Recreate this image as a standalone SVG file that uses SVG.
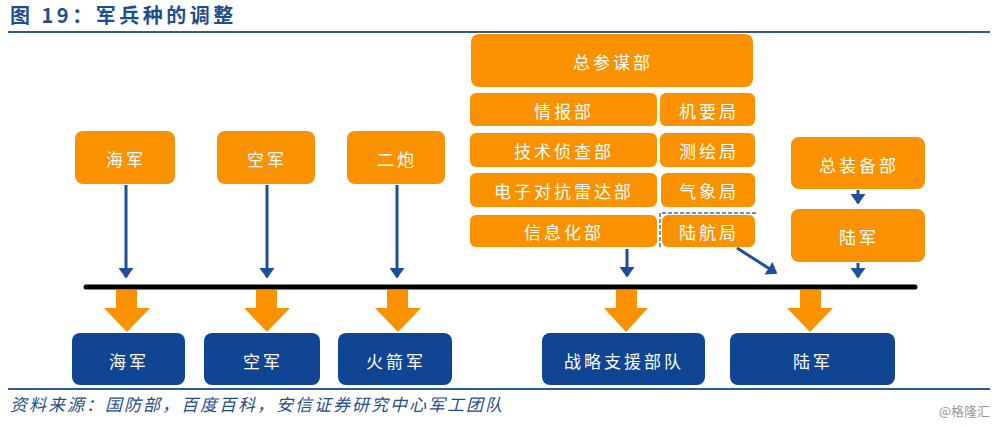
<svg xmlns="http://www.w3.org/2000/svg" width="1000" height="427" viewBox="0 0 1000 427">
<defs>
<style>
.on{fill:#fa9200}
.bn{fill:#0f4592}
.t{font-family:"Noto Sans CJK SC",sans-serif;font-size:17px;fill:#ffffff;text-anchor:middle;dominant-baseline:central;letter-spacing:3px}
.ln{stroke:#1d4f9c;stroke-width:3;fill:none}
.oa{fill:#fa9200}
</style>
<marker id="ah" markerWidth="5" markerHeight="5" refX="3" refY="2.5" orient="auto" markerUnits="strokeWidth">
<path d="M0,0 L3.5,2.5 L0,5 Z" fill="#1d4f9c"/>
</marker>
</defs>
<rect width="1000" height="427" fill="#ffffff"/>
<text x="10" y="23" font-family="'Noto Sans CJK SC',sans-serif" font-size="20" font-weight="bold" letter-spacing="3.5" fill="#1f4e8c">图 19：军兵种的调整</text>
<line x1="8" y1="32" x2="990" y2="32" stroke="#2c5a9c" stroke-width="2"/>

<g id="n-haijun-old"><rect class="on" x="75" y="131" width="100" height="53" rx="8"/><text class="t" x="126" y="158">海军</text></g>
<g id="n-kongjun-old"><rect class="on" x="217" y="131" width="98" height="53" rx="8"/><text class="t" x="267" y="158">空军</text></g>
<g id="n-erpao"><rect class="on" x="347" y="131" width="98" height="53" rx="8"/><text class="t" x="397" y="158">二炮</text></g>

<g id="n-zongcan"><rect class="on" x="471" y="34" width="282" height="53" rx="8"/><text class="t" x="613" y="61">总参谋部</text></g>
<g id="n-qingbao"><rect class="on" x="470" y="93" width="187" height="33" rx="6"/><text class="t" x="564" y="110">情报部</text></g>
<g id="n-jiyao"><rect class="on" x="660" y="93" width="95" height="33" rx="6"/><text class="t" x="709" y="110">机要局</text></g>
<g id="n-jishu"><rect class="on" x="470" y="133" width="187" height="34" rx="6"/><text class="t" x="564" y="150">技术侦查部</text></g>
<g id="n-cehui"><rect class="on" x="660" y="133" width="95" height="34" rx="6"/><text class="t" x="709" y="150">测绘局</text></g>
<g id="n-dianzi"><rect class="on" x="470" y="173" width="187" height="34" rx="6"/><text class="t" x="564" y="190">电子对抗雷达部</text></g>
<g id="n-qixiang"><rect class="on" x="661" y="173" width="94" height="34" rx="6"/><text class="t" x="709" y="190">气象局</text></g>
<g id="n-xinxi"><rect class="on" x="470" y="215" width="187" height="32" rx="6"/><text class="t" x="564" y="231">信息化部</text></g>
<g id="n-luhang"><rect class="on" x="662" y="215" width="93" height="32" rx="6"/><text class="t" x="709" y="231">陆航局</text>
<polyline points="660,247 660,213 756,213" fill="none" stroke="#3a6fb5" stroke-width="1.5" stroke-dasharray="4,2"/></g>

<g id="n-zongzhuang"><rect class="on" x="791" y="137" width="134" height="52" rx="8"/><text class="t" x="859" y="164">总装备部</text></g>
<g id="n-lujun-old"><rect class="on" x="791" y="209" width="134" height="53" rx="8"/><text class="t" x="859" y="236">陆军</text></g>

<g id="n-haijun"><rect class="bn" x="72" y="333" width="113" height="52" rx="8"/><text class="t" x="129" y="360">海军</text></g>
<g id="n-kongjun"><rect class="bn" x="204" y="333" width="116" height="52" rx="8"/><text class="t" x="263" y="360">空军</text></g>
<g id="n-huojian"><rect class="bn" x="338" y="333" width="114" height="52" rx="8"/><text class="t" x="396" y="360">火箭军</text></g>
<g id="n-zhanlue"><rect class="bn" x="542" y="333" width="163" height="52" rx="8"/><text class="t" x="624" y="360">战略支援部队</text></g>
<g id="n-lujun"><rect class="bn" x="730" y="333" width="165" height="52" rx="8"/><text class="t" x="813" y="360">陆军</text></g>

<g id="connectors">
<line x1="86" y1="287" x2="915" y2="287" stroke="#000000" stroke-width="5" stroke-linecap="round"/>
<line class="ln" x1="126" y1="185" x2="126" y2="277" marker-end="url(#ah)"/>
<line class="ln" x1="267" y1="185" x2="267" y2="277" marker-end="url(#ah)"/>
<line class="ln" x1="397" y1="185" x2="397" y2="277" marker-end="url(#ah)"/>
<line class="ln" x1="627" y1="249" x2="627" y2="276" marker-end="url(#ah)"/>
<line class="ln" x1="737" y1="248" x2="776" y2="273" marker-end="url(#ah)"/>
<line class="ln" x1="858" y1="190" x2="858" y2="203" marker-end="url(#ah)"/>
<line class="ln" x1="858" y1="263" x2="858" y2="277" marker-end="url(#ah)"/>
<path class="oa" d="M116,290 H137 V308 H150 L127,332 L104,308 H116 Z"/>
<path class="oa" d="M256,290 H277 V308 H290 L267,332 L244,308 H256 Z"/>
<path class="oa" d="M387,290 H408 V308 H421 L398,332 L375,308 H387 Z"/>
<path class="oa" d="M616,290 H637 V308 H648 L626,332 L604,308 H616 Z"/>
<path class="oa" d="M800,290 H821 V308 H833 L810,332 L787,308 H800 Z"/>
</g>

<line x1="8" y1="389" x2="990" y2="389" stroke="#2c5a9c" stroke-width="2"/>
<text x="10" y="411" font-family="'Noto Sans CJK SC',sans-serif" font-size="17" font-style="italic" letter-spacing="2" fill="#1f4e8c">资料来源：国防部，百度百科，安信证券研究中心军工团队</text>
<text x="990" y="416" font-family="'Noto Sans CJK SC',sans-serif" font-size="13" fill="#999999" text-anchor="end">@格隆汇</text>
</svg>
